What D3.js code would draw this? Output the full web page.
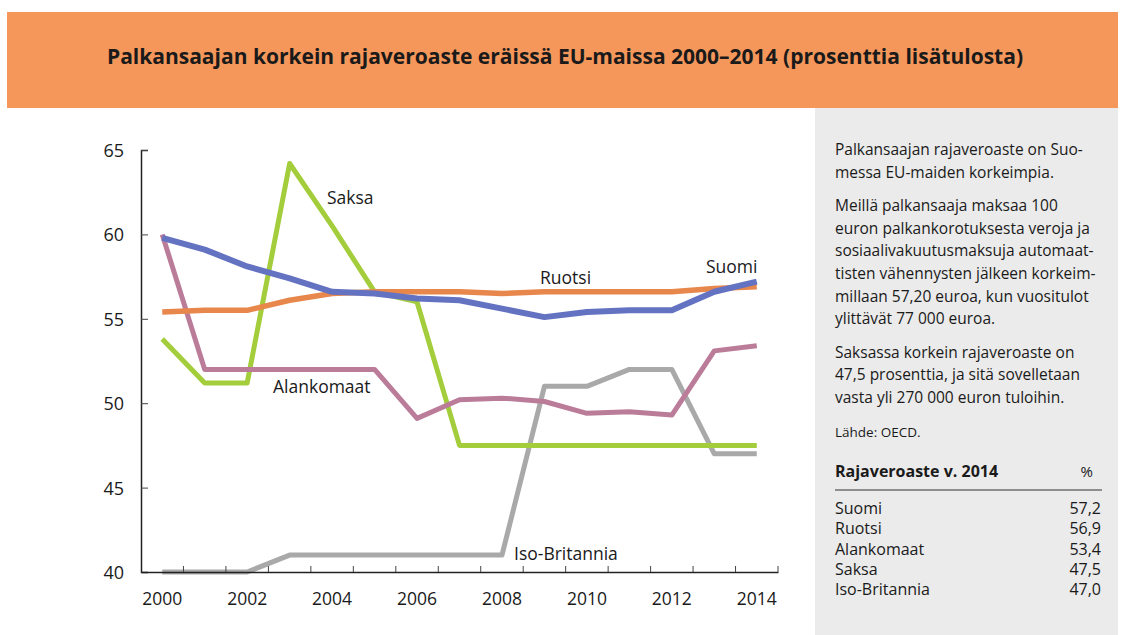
<!DOCTYPE html>
<html>
<head>
<meta charset="utf-8">
<script src="https://cdn.jsdelivr.net/npm/d3@7"></script>
<style>
  body { margin: 0; background: #fff; }
  text { font-family: "Open Sans", "Noto Sans", sans-serif; fill: #1a1a1a; }
</style>
</head>
<body>
<div id="viz"></div>
<script>
// data
var years = d3.range(2000, 2015);
var suomi = [59.8, 59.1, 58.1, 57.4, 56.6, 56.5, 56.2, 56.1, 55.6, 55.1, 55.4, 55.5, 55.5, 56.6, 57.2];
var ruotsi = [55.4, 55.5, 55.5, 56.1, 56.5, 56.6, 56.6, 56.6, 56.5, 56.6, 56.6, 56.6, 56.6, 56.8, 56.9];
var alankomaat = [60.0, 52.0, 52.0, 52.0, 52.0, 52.0, 49.1, 50.2, 50.3, 50.1, 49.4, 49.5, 49.3, 53.1, 53.4];
var saksa = [53.8, 51.2, 51.2, 64.2, 60.5, 56.6, 56.0, 47.5, 47.5, 47.5, 47.5, 47.5, 47.5, 47.5, 47.5];
var isoBritannia = [40, 40, 40, 41, 41, 41, 41, 41, 41, 51.0, 51.0, 52.0, 52.0, 47.0, 47.0];
var yTicks = [40, 45, 50, 55, 60, 65];
var xTickLabels = [2000, 2002, 2004, 2006, 2008, 2010, 2012, 2014];

var tableRows = ['Suomi', 'Ruotsi', 'Alankomaat', 'Saksa', 'Iso-Britannia'];
var tableValues = ['57,2', '56,9', '53,4', '47,5', '47,0'];

var panelLines = [
  'Palkansaajan rajaveroaste on Suo-',
  'messa EU-maiden korkeimpia.',
  '',
  'Meillä palkansaaja maksaa 100',
  'euron palkankorotuksesta veroja ja',
  'sosiaalivakuutusmaksuja automaat-',
  'tisten vähennysten jälkeen korkeim-',
  'millaan 57,20 euroa, kun vuositulot',
  'ylittävät 77 000 euroa.',
  '',
  'Saksassa korkein rajaveroaste on',
  '47,5 prosenttia, ja sitä sovelletaan',
  'vasta yli 270 000 euron tuloihin.'
];

var series = [
  { name: 'Iso-Britannia', values: isoBritannia, color: '#a9a9a9', width: 5, lx: 514, ly: 560 },
  { name: 'Saksa', values: saksa, color: '#a4cd3c', width: 5, lx: 327, ly: 204 },
  { name: 'Alankomaat', values: alankomaat, color: '#bb7c9a', width: 5, lx: 273, ly: 393 },
  { name: 'Ruotsi', values: ruotsi, color: '#e8874c', width: 5.5, lx: 540, ly: 284 },
  { name: 'Suomi', values: suomi, color: '#6472c2', width: 6, lx: 706, ly: 273 }
];

var W = 1125, H = 635;
var svg = d3.select('#viz').append('svg').attr('width', W).attr('height', H);

// header
svg.append('rect').attr('x', 7).attr('y', 12).attr('width', 1111).attr('height', 96).attr('fill', '#f5975b');
svg.append('text').attr('x', 565).attr('y', 64).attr('text-anchor', 'middle')
  .style('font-size', '21px').style('font-weight', 'bold')
  .text('Palkansaajan korkein rajaveroaste eräissä EU-maissa 2000–2014 (prosenttia lisätulosta)');

// right panel
svg.append('rect').attr('x', 815).attr('y', 108).attr('width', 303).attr('height', 527).attr('fill', '#ebebeb');

var para = svg.append('g').attr('transform', 'translate(835,0)');
var py = 155;
panelLines.forEach(function(l) {
  if (l === '') { py += 11; return; }
  para.append('text').attr('x', 0).attr('y', py).style('font-size', '15.5px').text(l);
  py += 22.6;
});
para.append('text').attr('x', 0).attr('y', 437).style('font-size', '13.5px').text('Lähde: OECD.');

var tbl = svg.append('g');
tbl.append('text').attr('x', 835).attr('y', 477).style('font-size', '16px').style('font-weight', 'bold').text('Rajaveroaste v. 2014');
tbl.append('text').attr('x', 1093).attr('y', 477).attr('text-anchor', 'end').style('font-size', '15px').text('%');
tbl.append('line').attr('x1', 835).attr('x2', 1102).attr('y1', 490).attr('y2', 490).attr('stroke', '#333').attr('stroke-width', 1.2);
tableRows.forEach(function(r, i) {
  tbl.append('text').attr('x', 835).attr('y', 514 + i * 20.3).style('font-size', '16px').text(r);
  tbl.append('text').attr('x', 1101).attr('y', 514 + i * 20.3).attr('text-anchor', 'end').style('font-size', '16px').text(tableValues[i]);
});

// chart
var x = d3.scaleBand().domain(years).range([141, 778]).padding(0);
var y = d3.scaleLinear().domain([40, 65]).range([572, 150]);
var cx = function(yr) { return x(yr) + x.bandwidth() / 2; };

var line = d3.line()
  .x(function(d, i) { return cx(years[i]); })
  .y(function(d) { return y(d); });

svg.append('g').selectAll('path')
  .data(series)
  .enter()
  .append('path')
  .attr('d', function(s) { return line(s.values); })
  .attr('fill', 'none')
  .attr('stroke', function(s) { return s.color; })
  .attr('stroke-width', function(s) { return s.width; })
  .attr('stroke-linejoin', 'round');

// axes
var yAxis = d3.axisLeft(y).tickValues(yTicks).tickSize(-7).tickPadding(17).tickFormat(d3.format('d'));
var yg = svg.append('g').attr('transform', 'translate(141,0)').call(yAxis);
yg.select('.domain').attr('stroke', '#222').attr('stroke-width', 1.5);
yg.selectAll('.tick line').attr('stroke', '#444');
yg.selectAll('.tick text').style('font-size', '18px').attr('fill', '#1a1a1a').attr('dy', '0.36em');

var xAxis = d3.axisBottom(x).tickValues([]).tickSize(0);
var xg = svg.append('g').attr('transform', 'translate(0,572)').call(xAxis);
xg.select('.domain').attr('stroke', '#222').attr('stroke-width', 1.5);
xg.selectAll('.bnd')
  .data(years)
  .enter()
  .append('line')
  .attr('class', 'bnd')
  .attr('x1', function(d) { return x(d) + x.bandwidth(); })
  .attr('x2', function(d) { return x(d) + x.bandwidth(); })
  .attr('y1', 0).attr('y2', -6)
  .attr('stroke', '#444');
xg.selectAll('.yl')
  .data(xTickLabels)
  .enter()
  .append('text')
  .attr('class', 'yl')
  .attr('x', function(d) { return cx(d); })
  .attr('y', 33)
  .attr('text-anchor', 'middle')
  .style('font-size', '17.5px')
  .text(function(d) { return d; });

// series labels
svg.append('g').selectAll('text')
  .data(series)
  .enter()
  .append('text')
  .attr('x', function(s) { return s.lx; })
  .attr('y', function(s) { return s.ly; })
  .style('font-size', '17.5px')
  .text(function(s) { return s.name; });
</script>
</body>
</html>
